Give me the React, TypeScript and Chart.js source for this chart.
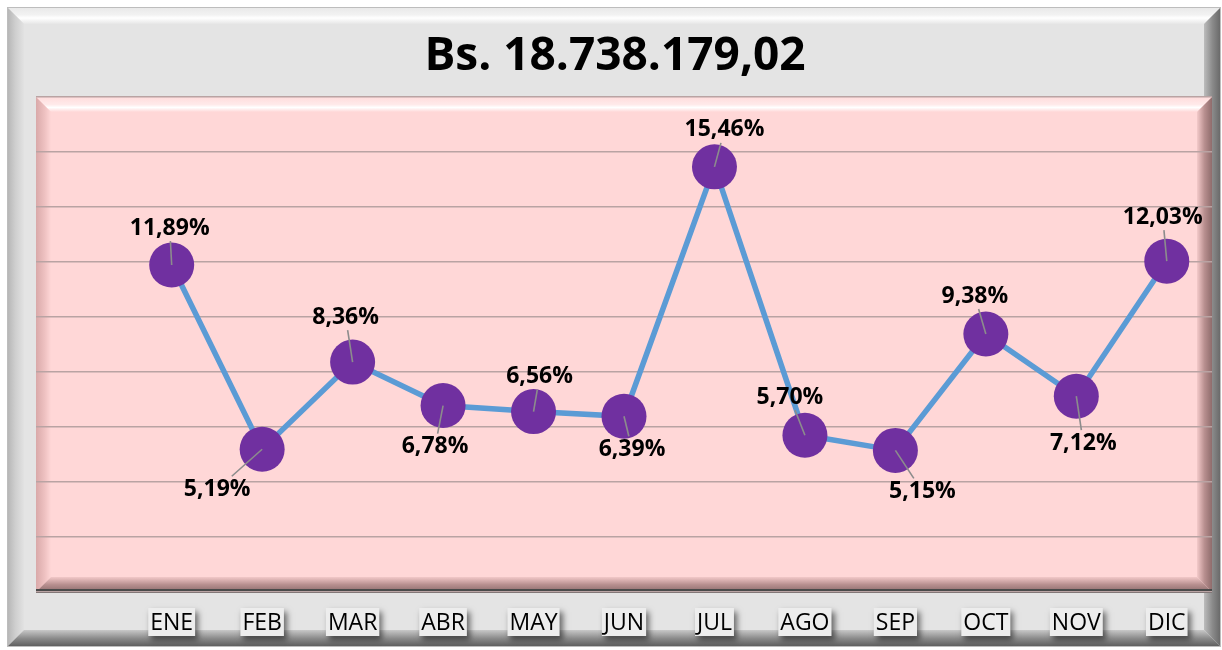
import { useEffect, useRef } from "react";
import { Chart, registerables } from "chart.js";

Chart.register(...registerables);

// ---- data ----
const months: string[] = ["ENE", "FEB", "MAR", "ABR", "MAY", "JUN", "JUL", "AGO", "SEP", "OCT", "NOV", "DIC"];
const shares: number[] = [11.89, 5.19, 8.36, 6.78, 6.56, 6.39, 15.46, 5.7, 5.15, 9.38, 7.12, 12.03];
const shareLabels: string[] = ["11,89%", "5,19%", "8,36%", "6,78%", "6,56%", "6,39%", "15,46%", "5,70%", "5,15%", "9,38%", "7,12%", "12,03%"];
const titleText = "Bs. 18.738.179,02";
const yMin = 0;
const yMax = 18;
const yStep = 2;

// label placement relative to the point (style only, px)
const labelOffsets: [number, number][] = [
  [-2, -37], [-45, 40], [-7, -45], [-8, 41], [6, -35], [8, 33],
  [10, -37], [-15, -38], [27, 41], [-11, -38], [7, 47], [-4, -44],
];

const FONT = "'Open Sans', 'DejaVu Sans', sans-serif";

function poly(ctx: CanvasRenderingContext2D, pts: number[][], fill: string | CanvasGradient) {
  ctx.beginPath();
  ctx.moveTo(pts[0][0], pts[0][1]);
  for (let i = 1; i < pts.length; i++) ctx.lineTo(pts[i][0], pts[i][1]);
  ctx.closePath();
  ctx.fillStyle = fill;
  ctx.fill();
}

const framePlugin = {
  id: "framePlugin",
  beforeDraw(chart: any) {
    const ctx: CanvasRenderingContext2D = chart.ctx;
    const W = chart.width;
    const H = chart.height;
    ctx.save();
    ctx.fillStyle = "#ffffff";
    ctx.fillRect(0, 0, W, H);
    // outer frame
    const L = 7, T = 7, R = W - 1, B = H - 3, b = 17;
    ctx.fillStyle = "#e4e4e4";
    ctx.fillRect(L, T, R - L, B - T);
    let g = ctx.createLinearGradient(0, T, 0, T + b);
    g.addColorStop(0, "#e8e8e8");
    g.addColorStop(0.45, "#f2f2f2");
    g.addColorStop(0.65, "#ffffff");
    g.addColorStop(1, "#e6e6e6");
    poly(ctx, [[L, T], [R, T], [R - b, T + b], [L + b, T + b]], g);
    g = ctx.createLinearGradient(L, 0, L + b, 0);
    g.addColorStop(0, "#b4b4b4");
    g.addColorStop(0.5, "#cfcfcf");
    g.addColorStop(1, "#e2e2e2");
    poly(ctx, [[L, T], [L + b, T + b], [L + b, B - b], [L, B]], g);
    g = ctx.createLinearGradient(R - b, 0, R, 0);
    g.addColorStop(0, "#bcbcbc");
    g.addColorStop(0.5, "#8a8a8a");
    g.addColorStop(1, "#666666");
    poly(ctx, [[R, T], [R, B], [R - b, B - b], [R - b, T + b]], g);
    g = ctx.createLinearGradient(0, B - b, 0, B);
    g.addColorStop(0, "#c8c8c8");
    g.addColorStop(0.5, "#8a8a8a");
    g.addColorStop(1, "#5a5a5a");
    poly(ctx, [[L, B], [R, B], [R - b, B - b], [L + b, B - b]], g);
    ctx.strokeStyle = "#bdbdbd";
    ctx.lineWidth = 1;
    ctx.strokeRect(L + 0.5, T + 0.5, R - L - 1, B - T - 1);

    // plot area (pink) with bevel
    const a = chart.chartArea;
    const pl = a.left, pt = a.top, pr = a.right, pb = a.bottom, pbv = 15;
    ctx.fillStyle = "#ffd7d7";
    ctx.fillRect(pl, pt, pr - pl, pb - pt);
    g = ctx.createLinearGradient(0, pt, 0, pt + pbv);
    g.addColorStop(0, "#ffdcdc");
    g.addColorStop(0.5, "#ffeaea");
    g.addColorStop(0.7, "#ffffff");
    g.addColorStop(1, "#ffd7d7");
    poly(ctx, [[pl, pt], [pr, pt], [pr - pbv, pt + pbv], [pl + pbv, pt + pbv]], g);
    g = ctx.createLinearGradient(pl, 0, pl + pbv, 0);
    g.addColorStop(0, "#d9a9a9");
    g.addColorStop(0.6, "#efc2c2");
    g.addColorStop(1, "#ffd7d7");
    poly(ctx, [[pl, pt], [pl + pbv, pt + pbv], [pl + pbv, pb - pbv], [pl, pb]], g);
    g = ctx.createLinearGradient(pr - pbv, 0, pr, 0);
    g.addColorStop(0, "#f4caca");
    g.addColorStop(0.5, "#b88f8f");
    g.addColorStop(1, "#8f6c6c");
    poly(ctx, [[pr, pt], [pr, pb], [pr - pbv, pb - pbv], [pr - pbv, pt + pbv]], g);
    g = ctx.createLinearGradient(0, pb - pbv, 0, pb);
    g.addColorStop(0, "#f2c8c8");
    g.addColorStop(0.5, "#b89090");
    g.addColorStop(1, "#8c6c6c");
    poly(ctx, [[pl, pb], [pr, pb], [pr - pbv, pb - pbv], [pl + pbv, pb - pbv]], g);
    ctx.fillStyle = "#4a4a4a";
    ctx.fillRect(pl, pb - 3, pr - pl, 4);

    // title
    ctx.fillStyle = "#000000";
    ctx.font = `bold 46px ${FONT}`;
    ctx.textAlign = "center";
    ctx.textBaseline = "middle";
    ctx.fillText(titleText, 615, 57);
    ctx.restore();
  },
  afterDatasetsDraw(chart: any) {
    const ctx: CanvasRenderingContext2D = chart.ctx;
    const meta = chart.getDatasetMeta(0);
    ctx.save();
    ctx.font = `bold 23px ${FONT}`;
    ctx.textAlign = "center";
    ctx.textBaseline = "middle";
    meta.data.forEach((pt: any, i: number) => {
      const [dx, dy] = labelOffsets[i];
      const lx = pt.x + dx;
      const ly = pt.y + dy;
      const t = (Math.abs(dy) - 13) / Math.abs(dy);
      ctx.strokeStyle = "#8c8c8c";
      ctx.lineWidth = 1.6;
      ctx.beginPath();
      ctx.moveTo(pt.x, pt.y);
      ctx.lineTo(pt.x + dx * t, pt.y + dy * t);
      ctx.stroke();
      ctx.fillStyle = "#000000";
      ctx.fillText(shareLabels[i], lx, ly);
    });
    ctx.restore();
  },
  afterDraw(chart: any) {
    const ctx: CanvasRenderingContext2D = chart.ctx;
    const xs = chart.scales.x;
    const y0 = chart.chartArea.bottom + 30;
    ctx.save();
    ctx.font = `23px ${FONT}`;
    ctx.textBaseline = "middle";
    ctx.textAlign = "left";
    months.forEach((m, i) => {
      const cx = xs.getPixelForValue(i);
      const w = ctx.measureText(m).width;
      const bx = cx - w / 2 - 2;
      ctx.save();
      ctx.shadowColor = "rgba(0,0,0,0.55)";
      ctx.shadowBlur = 6;
      ctx.shadowOffsetX = 3;
      ctx.shadowOffsetY = 4;
      ctx.fillStyle = "#ededed";
      ctx.fillRect(bx, y0 - 14, w + 4, 28);
      ctx.restore();
      ctx.fillStyle = "#000000";
      ctx.fillText(m, cx - w / 2, y0 + 1);
    });
    ctx.restore();
  },
};

export default function App() {
  const ref = useRef<HTMLCanvasElement | null>(null);
  useEffect(() => {
    document.body.style.margin = "0";
    const canvas = ref.current;
    if (!canvas) return;
    const chart = new Chart(canvas, {
      type: "line",
      data: {
        datasets: [
          {
            label: "Participación",
            data: shares.map((v, i) => ({ x: i, y: v })),
            borderColor: "#5b9bd5",
            borderWidth: 5.5,
            pointRadius: 22.5,
            pointHoverRadius: 22.5,
            pointBackgroundColor: "#7030a0",
            pointBorderColor: "#7030a0",
            pointBorderWidth: 0,
            tension: 0,
          },
        ],
      },
      options: {
        responsive: false,
        animation: false,
        layout: { autoPadding: false, padding: { left: 36, right: 10, top: 97, bottom: 58 } },
        plugins: {
          legend: { display: false },
          tooltip: { enabled: false },
          title: { display: false },
        },
        scales: {
          x: {
            type: "linear",
            min: -1.5,
            max: 11.5,
            grid: { display: false, drawTicks: false },
            border: { display: false },
            ticks: { display: false },
            afterFit: (s: any) => { s.height = 0; },
          },
          y: {
            min: yMin,
            max: yMax,
            ticks: { display: false, stepSize: yStep },
            grid: { color: "#b9a3a3", lineWidth: 1.5, drawTicks: false },
            border: { display: false },
            afterFit: (s: any) => { s.width = 0; },
          },
        },
      },
      plugins: [framePlugin],
    });
    return () => chart.destroy();
  }, []);
  return <canvas ref={ref} width={1222} height={650} style={{ display: "block" }} />;
}
